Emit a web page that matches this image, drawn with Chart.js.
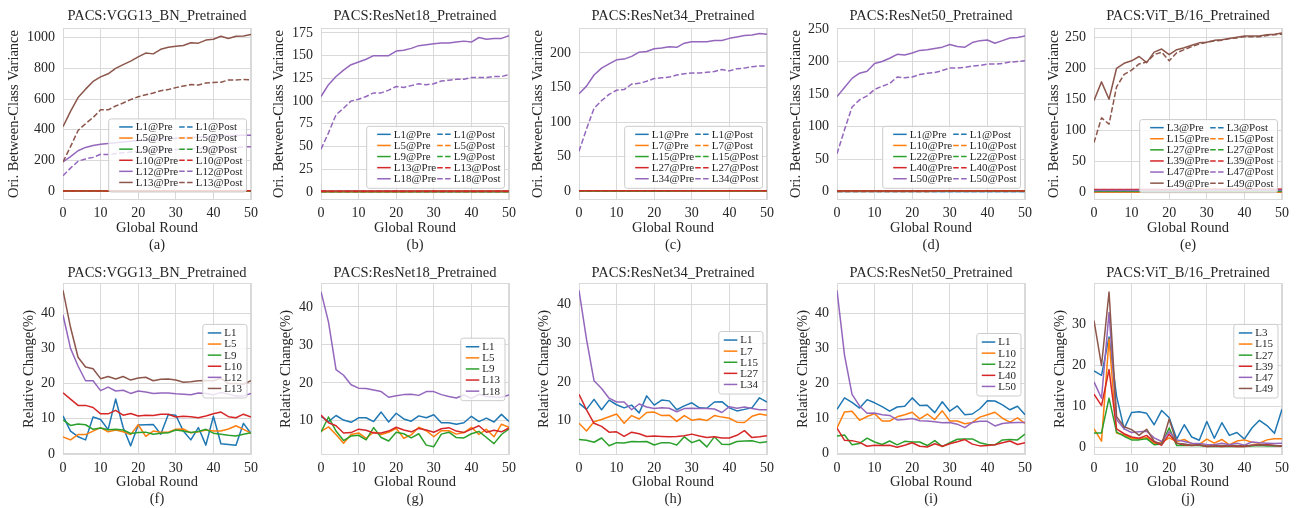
<!DOCTYPE html>
<html>
<head>
<meta charset="utf-8">
<title>PACS: between-class variance and relative change</title>
<script src="https://cdn.jsdelivr.net/npm/chart.js@4.4.0/dist/chart.umd.min.js"></script>
<style>
  html, body { margin: 0; padding: 0; background: #fff; }
  #fig { position: relative; width: 1304px; height: 508px; overflow: hidden; background: #fff; }
  #fig canvas { position: absolute; }
  #fontprobe { position: absolute; left: -9999px; top: 0; font-family: 'Liberation Serif'; font-size: 14px; }
</style>
</head>
<body>
<div id="fig"></div>
<span id="fontprobe">L1@Pre 0123456789</span>
<script>
// Global rounds on the x axis
const ROUNDS = [0,2,4,6,8,10,12,14,16,18,20,22,24,26,28,30,32,34,36,38,40,42,44,46,48,50];
const X_TICKS = [0, 10, 20, 30, 40, 50];

// ---- (a) VGG13_BN, between-class variance ----
const A_LAYERS = ['L1', 'L5', 'L9', 'L10', 'L12', 'L13'];
const A_Y_TICKS = [0, 200, 400, 600, 800, 1000];
const a_L1_pre  = [0.3,0.3,0.3,0.3,0.3,0.3,0.3,0.3,0.3,0.3,0.3,0.3,0.3,0.4,0.4,0.4,0.4,0.4,0.4,0.4,0.4,0.4,0.4,0.4,0.4,0.4];
const a_L5_pre  = [0.6,0.6,0.6,0.6,0.6,0.6,0.6,0.6,0.6,0.6,0.6,0.6,0.6,0.7,0.7,0.7,0.7,0.7,0.7,0.7,0.7,0.7,0.7,0.7,0.7,0.7];
const a_L9_pre  = [1.1,1.1,1.1,1.1,1.1,1.1,1.1,1.1,1.1,1.1,1.1,1.1,1.1,1.3,1.3,1.3,1.3,1.3,1.3,1.3,1.3,1.3,1.3,1.3,1.3,1.3];
const a_L10_pre = [1.8,1.8,1.8,1.8,1.8,1.8,1.8,1.8,1.8,1.8,1.8,1.8,1.8,2.1,2.1,2.1,2.1,2.1,2.1,2.1,2.1,2.1,2.1,2.1,2.1,2.1];
const a_L12_pre = [190,225,263,285,298,305,310,315,320,325,330,333,337,340,342,345,348,350,352,355,357,360,362,363,365,365];
const a_L13_pre = [420,520,610,665,715,745,765,800,825,848,875,900,895,925,938,945,950,968,965,985,990,1010,995,1010,1012,1022];
const a_L1_post  = [0.2,0.2,0.2,0.2,0.2,0.2,0.2,0.2,0.2,0.2,0.2,0.2,0.2,0.3,0.3,0.3,0.3,0.3,0.3,0.3,0.3,0.3,0.3,0.3,0.3,0.3];
const a_L5_post  = [0.5,0.5,0.5,0.5,0.5,0.5,0.5,0.5,0.5,0.5,0.5,0.5,0.5,0.6,0.6,0.6,0.6,0.6,0.6,0.6,0.6,0.6,0.6,0.6,0.6,0.6];
const a_L9_post  = [0.9,0.9,0.9,0.9,0.9,0.9,0.9,0.9,0.9,0.9,0.9,0.9,0.9,1.1,1.1,1.1,1.1,1.1,1.1,1.1,1.1,1.1,1.1,1.1,1.1,1.1];
const a_L10_post = [1.5,1.5,1.5,1.5,1.5,1.5,1.5,1.5,1.5,1.5,1.5,1.5,1.5,1.8,1.8,1.8,1.8,1.8,1.8,1.8,1.8,1.8,1.8,1.8,1.8,1.8];
const a_L12_post = [100,150,195,210,220,240,238,245,250,255,258,262,265,268,270,272,274,276,278,280,282,284,285,286,288,290];
const a_L13_post = [190,290,395,440,480,530,530,555,575,597,615,628,640,655,662,675,685,695,692,705,708,710,725,725,728,725];

// ---- (b) ResNet18 ----
const B_LAYERS = ['L1', 'L5', 'L9', 'L13', 'L18'];
const B_Y_TICKS = [0, 25, 50, 75, 100, 125, 150, 175];
const b_L1_pre  = [0.1,0.1,0.1,0.1,0.1,0.1,0.1,0.1,0.1,0.1,0.1,0.1,0.1,0.1,0.1,0.1,0.1,0.1,0.1,0.1,0.1,0.1,0.1,0.1,0.1,0.1];
const b_L5_pre  = [0.2,0.2,0.2,0.2,0.2,0.2,0.2,0.2,0.2,0.2,0.2,0.2,0.2,0.3,0.3,0.3,0.3,0.3,0.3,0.3,0.3,0.3,0.3,0.3,0.3,0.3];
const b_L9_pre  = [0.4,0.4,0.4,0.4,0.4,0.4,0.4,0.4,0.4,0.4,0.4,0.4,0.4,0.5,0.5,0.5,0.5,0.5,0.5,0.5,0.5,0.5,0.5,0.5,0.5,0.5];
const b_L13_pre = [0.8,0.8,0.8,0.8,0.8,0.8,0.8,0.8,0.8,0.8,0.8,0.8,0.8,0.9,0.9,0.9,0.9,0.9,0.9,0.9,0.9,0.9,0.9,0.9,0.9,0.9];
const b_L18_pre = [105,118,127,134,140,143,146,150,150,150,155,156,158,161,162,163,164,164,165,166,165,170,168,169,169,172];
const b_L1_post  = [0.1,0.1,0.1,0.1,0.1,0.1,0.1,0.1,0.1,0.1,0.1,0.1,0.1,0.1,0.1,0.1,0.1,0.1,0.1,0.1,0.1,0.1,0.1,0.1,0.1,0.1];
const b_L5_post  = [0.2,0.2,0.2,0.2,0.2,0.2,0.2,0.2,0.2,0.2,0.2,0.2,0.2,0.2,0.2,0.2,0.2,0.2,0.2,0.2,0.2,0.2,0.2,0.2,0.2,0.2];
const b_L9_post  = [0.3,0.3,0.3,0.3,0.3,0.3,0.3,0.3,0.3,0.3,0.3,0.3,0.3,0.4,0.4,0.4,0.4,0.4,0.4,0.4,0.4,0.4,0.4,0.4,0.4,0.4];
const b_L13_post = [0.6,0.6,0.6,0.6,0.6,0.6,0.6,0.6,0.6,0.6,0.6,0.6,0.6,0.7,0.7,0.7,0.7,0.7,0.7,0.7,0.7,0.7,0.7,0.7,0.7,0.7];
const b_L18_post = [47,65,85,92,100,102,105,109,109,112,116,115,117,119,118,119,122,123,124,124,126,126,126,127,127,129];

// ---- (c) ResNet34 ----
const C_LAYERS = ['L1', 'L7', 'L15', 'L27', 'L34'];
const C_Y_TICKS = [0, 50, 100, 150, 200];
const c_L1_pre  = [0.1,0.1,0.1,0.1,0.1,0.1,0.1,0.1,0.1,0.1,0.1,0.1,0.1,0.1,0.1,0.1,0.1,0.1,0.1,0.1,0.1,0.1,0.1,0.1,0.1,0.1];
const c_L7_pre  = [0.2,0.2,0.2,0.2,0.2,0.2,0.2,0.2,0.2,0.2,0.2,0.2,0.2,0.3,0.3,0.3,0.3,0.3,0.3,0.3,0.3,0.3,0.3,0.3,0.3,0.3];
const c_L15_pre = [0.4,0.4,0.4,0.4,0.4,0.4,0.4,0.4,0.4,0.4,0.4,0.4,0.4,0.5,0.5,0.5,0.5,0.5,0.5,0.5,0.5,0.5,0.5,0.5,0.5,0.5];
const c_L27_pre = [0.9,0.9,0.9,0.9,0.9,0.9,0.9,0.9,0.9,0.9,0.9,0.9,0.9,1.0,1.0,1.0,1.0,1.0,1.0,1.0,1.0,1.0,1.0,1.0,1.0,1.0];
const c_L34_pre = [141,152,168,178,184,190,191,195,201,202,206,207,209,208,214,216,216,216,218,218,221,223,225,226,228,227];
const c_L1_post  = [0.1,0.1,0.1,0.1,0.1,0.1,0.1,0.1,0.1,0.1,0.1,0.1,0.1,0.1,0.1,0.1,0.1,0.1,0.1,0.1,0.1,0.1,0.1,0.1,0.1,0.1];
const c_L7_post  = [0.2,0.2,0.2,0.2,0.2,0.2,0.2,0.2,0.2,0.2,0.2,0.2,0.2,0.2,0.2,0.2,0.2,0.2,0.2,0.2,0.2,0.2,0.2,0.2,0.2,0.2];
const c_L15_post = [0.3,0.3,0.3,0.3,0.3,0.3,0.3,0.3,0.3,0.3,0.3,0.3,0.3,0.4,0.4,0.4,0.4,0.4,0.4,0.4,0.4,0.4,0.4,0.4,0.4,0.4];
const c_L27_post = [0.7,0.7,0.7,0.7,0.7,0.7,0.7,0.7,0.7,0.7,0.7,0.7,0.7,0.8,0.8,0.8,0.8,0.8,0.8,0.8,0.8,0.8,0.8,0.8,0.8,0.8];
const c_L34_post = [58,90,120,131,140,146,147,155,156,159,163,164,165,168,170,171,171,172,173,176,174,177,178,180,181,181];

// ---- (d) ResNet50 ----
const D_LAYERS = ['L1', 'L10', 'L22', 'L40', 'L50'];
const D_Y_TICKS = [0, 50, 100, 150, 200, 250];
const d_L1_pre  = [0.1,0.1,0.1,0.1,0.1,0.1,0.1,0.1,0.1,0.1,0.1,0.1,0.1,0.1,0.1,0.1,0.1,0.1,0.1,0.1,0.1,0.1,0.1,0.1,0.1,0.1];
const d_L10_pre = [0.3,0.3,0.3,0.3,0.3,0.3,0.3,0.3,0.3,0.3,0.3,0.3,0.3,0.3,0.3,0.3,0.3,0.3,0.3,0.3,0.3,0.3,0.3,0.3,0.3,0.3];
const d_L22_pre = [0.5,0.5,0.5,0.5,0.5,0.5,0.5,0.5,0.5,0.5,0.5,0.5,0.5,0.6,0.6,0.6,0.6,0.6,0.6,0.6,0.6,0.6,0.6,0.6,0.6,0.6];
const d_L40_pre = [1.0,1.0,1.0,1.0,1.0,1.0,1.0,1.0,1.0,1.0,1.0,1.0,1.0,1.2,1.2,1.2,1.2,1.2,1.2,1.2,1.2,1.2,1.2,1.2,1.2,1.2];
const d_L50_pre = [146,160,174,182,185,197,200,205,211,210,213,217,218,220,222,226,223,222,229,232,233,228,232,236,237,239];
const d_L1_post  = [0.1,0.1,0.1,0.1,0.1,0.1,0.1,0.1,0.1,0.1,0.1,0.1,0.1,0.1,0.1,0.1,0.1,0.1,0.1,0.1,0.1,0.1,0.1,0.1,0.1,0.1];
const d_L10_post = [0.2,0.2,0.2,0.2,0.2,0.2,0.2,0.2,0.2,0.2,0.2,0.2,0.2,0.3,0.3,0.3,0.3,0.3,0.3,0.3,0.3,0.3,0.3,0.3,0.3,0.3];
const d_L22_post = [0.4,0.4,0.4,0.4,0.4,0.4,0.4,0.4,0.4,0.4,0.4,0.4,0.4,0.5,0.5,0.5,0.5,0.5,0.5,0.5,0.5,0.5,0.5,0.5,0.5,0.5];
const d_L40_post = [0.8,0.8,0.8,0.8,0.8,0.8,0.8,0.8,0.8,0.8,0.8,0.8,0.8,1.0,1.0,1.0,1.0,1.0,1.0,1.0,1.0,1.0,1.0,1.0,1.0,1.0];
const d_L50_post = [58,95,130,141,147,157,162,166,176,175,176,180,182,183,186,190,190,191,193,194,196,196,197,199,200,201];

// ---- (e) ViT_B/16 ----
const E_LAYERS = ['L3', 'L15', 'L27', 'L39', 'L47', 'L49'];
const E_Y_TICKS = [0, 50, 100, 150, 200, 250];
const e_L3_pre  = [0.9,0.9,0.9,0.9,0.9,0.9,0.9,0.9,0.9,0.9,0.9,0.9,0.9,1.0,1.0,1.0,1.0,1.0,1.0,1.0,1.0,1.0,1.0,1.0,1.0,1.0];
const e_L15_pre = [0.5,0.5,0.5,0.5,0.5,0.5,0.5,0.5,0.5,0.5,0.5,0.5,0.5,0.6,0.6,0.6,0.6,0.6,0.6,0.6,0.6,0.6,0.6,0.6,0.6,0.6];
const e_L27_pre = [1.7,1.7,1.7,1.7,1.7,1.7,1.7,1.7,1.7,1.7,1.7,1.7,1.7,1.9,1.9,1.9,1.9,1.9,1.9,1.9,1.9,1.9,1.9,1.9,1.9,1.9];
const e_L39_pre = [4.6,4.6,4.6,4.6,4.6,4.6,4.6,4.6,4.6,4.6,4.6,4.6,4.6,4.9,4.9,4.9,4.9,4.9,4.9,4.9,4.9,4.9,4.9,4.9,4.9,4.9];
const e_L47_pre = [3.4,3.4,3.4,3.4,3.4,3.4,3.4,3.4,3.4,3.4,3.4,3.4,3.4,3.7,3.7,3.7,3.7,3.7,3.7,3.7,3.7,3.7,3.7,3.7,3.7,3.7];
const e_L49_pre = [148,178,150,200,208,212,219,209,226,231,222,230,233,237,241,242,245,246,248,250,252,252,252,254,255,257];
const e_L3_post  = [0.8,0.8,0.8,0.8,0.8,0.8,0.8,0.8,0.8,0.8,0.8,0.8,0.8,0.9,0.9,0.9,0.9,0.9,0.9,0.9,0.9,0.9,0.9,0.9,0.9,0.9];
const e_L15_post = [0.4,0.4,0.4,0.4,0.4,0.4,0.4,0.4,0.4,0.4,0.4,0.4,0.4,0.5,0.5,0.5,0.5,0.5,0.5,0.5,0.5,0.5,0.5,0.5,0.5,0.5];
const e_L27_post = [1.5,1.5,1.5,1.5,1.5,1.5,1.5,1.5,1.5,1.5,1.5,1.5,1.5,1.7,1.7,1.7,1.7,1.7,1.7,1.7,1.7,1.7,1.7,1.7,1.7,1.7];
const e_L39_post = [4.1,4.1,4.1,4.1,4.1,4.1,4.1,4.1,4.1,4.1,4.1,4.1,4.1,4.4,4.4,4.4,4.4,4.4,4.4,4.4,4.4,4.4,4.4,4.4,4.4,4.4];
const e_L47_post = [3.0,3.0,3.0,3.0,3.0,3.0,3.0,3.0,3.0,3.0,3.0,3.0,3.0,3.3,3.3,3.3,3.3,3.3,3.3,3.3,3.3,3.3,3.3,3.3,3.3,3.3];
const e_L49_post = [80,120,110,170,190,197,207,210,222,226,212,225,230,235,239,242,244,245,248,249,251,251,251,253,254,255];

// ---- bottom row: relative change (%) ----
const F_Y_TICKS = [0, 10, 20, 30, 40];
const f_L1  = [10.8,6.5,4.9,4.0,10.5,9.8,6.9,15.6,7.5,2.3,8.2,8.3,8.4,5.6,11.2,11.0,6.5,4.0,7.5,2.5,10.7,2.9,2.7,2.5,8.7,5.8];
const f_L5  = [4.8,4.0,5.5,5.5,6.5,7.5,6.3,6.8,6.3,5.5,8.3,5.0,6.5,6.2,6.2,7.0,7.1,6.0,6.3,6.8,6.5,6.5,7.1,8.0,7.0,5.9];
const f_L9  = [9.7,8.1,8.5,8.3,7.0,7.4,6.9,7.0,6.8,5.8,6.1,6.2,5.6,5.9,6.0,6.8,6.5,6.1,6.4,7.0,5.9,5.6,5.3,5.1,5.6,6.0];
const f_L10 = [17.4,15.6,13.8,13.8,13.2,11.4,11.4,12.4,11.0,11.5,10.8,11.0,10.9,11.3,11.3,10.5,10.7,10.6,10.3,10.8,11.4,11.9,10.6,10.3,11.3,10.5];
const f_L12 = [39.5,30.0,25.0,20.8,20.8,18.0,19.0,17.9,18.1,17.2,17.9,17.6,17.2,17.3,17.3,17.1,17.0,16.8,17.3,17.2,16.8,17.5,17.0,16.5,16.5,17.2];
const f_L13 = [46.5,36.0,27.5,24.7,24.2,21.4,22.0,21.3,22.0,21.0,21.6,21.8,20.8,21.2,21.3,21.0,20.4,20.5,20.8,20.9,20.8,21.5,20.0,20.0,19.8,20.8];

const G_Y_TICKS = [10, 20, 30, 40];
const g_L1  = [11.2,9.8,11.4,10.2,9.6,10.8,10.8,9.8,12.3,9.7,12.0,10.5,9.9,11.3,10.8,11.6,9.5,9.5,9.1,9.5,11.2,9.8,10.7,9.7,11.7,9.8];
const g_L5  = [7.2,8.4,6.4,4.1,6.4,6.8,5.4,7.0,6.4,7.0,8.0,5.4,6.3,8.3,7.4,5.8,7.4,7.4,6.5,6.9,8.3,6.4,7.8,5.8,9.1,8.3];
const g_L9  = [7.0,11.0,7.3,4.8,6.0,6.2,5.0,8.2,5.6,4.7,7.0,6.6,5.5,6.6,3.6,3.2,6.5,7.0,5.6,5.5,6.6,7.2,5.6,4.0,6.4,7.9];
const g_L13 = [11.5,9.5,8.7,6.8,6.9,7.8,7.5,6.8,6.8,7.3,8.3,7.6,7.1,8.0,7.6,7.0,7.9,8.2,7.3,6.9,7.8,8.7,7.0,7.5,7.1,8.1];
const g_L18 = [44.0,36.0,23.5,22.0,19.5,18.6,18.5,18.1,17.7,16.2,16.6,16.9,17.0,16.7,17.7,17.7,16.9,16.4,16.0,16.8,15.9,17.0,16.4,16.3,16.2,16.8];

const H_Y_TICKS = [10, 20, 30, 40];
const h_L1  = [14.5,12.9,15.5,12.8,15.3,14.1,13.3,14.0,12.0,16.4,14.0,15.3,15.1,12.8,13.8,14.6,13.3,13.2,14.8,14.9,13.3,12.5,12.9,13.3,15.9,14.8];
const h_L7  = [9.3,7.3,9.7,10.3,11.0,11.7,9.3,11.3,10.4,12.1,12.2,11.3,11.4,9.8,11.3,10.1,10.4,10.0,11.3,10.9,10.6,9.6,9.5,11.1,11.7,11.4];
const h_L15 = [5.1,4.9,4.4,5.5,3.5,4.3,4.2,4.6,4.5,4.6,3.7,4.3,4.3,3.7,5.8,4.3,5.0,3.2,5.8,3.9,3.8,4.6,4.7,4.8,4.3,4.5];
const h_L27 = [16.8,12.8,9.3,8.5,7.0,7.1,5.9,7.0,6.6,5.9,6.0,5.9,5.8,5.9,6.1,6.5,6.0,5.6,5.8,5.5,5.5,6.2,7.4,5.6,5.8,6.1];
const h_L34 = [43.7,31.0,20.3,18.3,15.8,14.8,14.8,12.8,14.3,13.5,13.1,13.3,13.2,12.3,13.1,13.2,13.1,13.1,13.0,12.1,13.6,13.2,13.5,13.1,12.8,12.8];

const I_Y_TICKS = [0, 10, 20, 30, 40];
const i_L1  = [12.5,15.8,14.5,12.9,15.3,14.4,13.3,12.0,13.2,13.4,15.8,13.6,13.7,11.6,14.7,12.0,13.5,11.0,11.2,12.7,15.0,14.9,13.8,12.4,13.4,11.0];
const i_L10 = [7.2,11.8,12.0,9.4,10.5,11.3,9.2,9.2,10.4,11.0,11.7,9.8,11.2,9.6,12.1,9.2,9.2,8.4,8.8,10.3,11.0,11.7,10.0,8.9,10.1,8.5];
const i_L22 = [4.9,5.2,2.4,2.8,4.3,3.2,2.5,3.5,2.4,3.4,3.2,3.2,2.2,3.6,1.9,3.0,4.0,4.1,4.1,3.0,2.5,2.4,3.8,3.9,3.8,5.5];
const i_L40 = [7.2,3.7,3.6,3.1,2.0,2.3,2.2,2.3,1.7,2.3,3.0,2.0,1.8,2.7,2.0,2.7,3.3,3.9,2.6,2.1,2.2,2.4,3.0,3.5,2.5,3.0];
const i_L50 = [46.5,28.0,16.8,13.5,11.4,11.5,11.0,10.8,9.5,9.6,9.9,9.3,9.2,9.0,8.7,8.8,8.3,7.3,8.8,9.1,9.1,7.8,8.5,8.7,8.8,8.8];

const J_Y_TICKS = [0, 10, 20, 30];
const j_L3  = [18.7,17.6,27.0,12.5,4.5,8.5,8.7,8.3,5.5,9.0,7.2,2.0,5.5,2.5,1.7,6.3,2.2,6.0,2.9,3.6,2.0,4.7,6.6,5.3,3.4,9.3];
const j_L15 = [4.5,1.5,26.5,3.5,3.0,2.2,2.0,2.4,0.9,1.2,2.3,1.4,1.9,0.9,0.7,2.0,1.0,1.9,0.6,1.5,1.8,1.2,1.0,1.8,2.1,2.1];
const j_L27 = [3.5,3.5,12.0,3.7,2.7,1.8,1.8,2.1,0.6,0.8,4.7,0.4,0.5,0.4,0.4,0.2,0.2,0.2,0.2,0.2,0.2,0.3,0.4,0.3,0.3,0.3];
const j_L39 = [13.0,10.2,19.0,4.5,3.3,2.5,2.2,2.9,1.3,0.5,3.2,1.0,0.6,0.4,0.6,0.2,0.3,0.2,0.3,0.2,0.2,0.5,0.6,0.7,0.4,0.3];
const j_L47 = [16.0,12.0,33.0,6.8,4.5,3.6,3.8,3.9,2.3,1.4,3.8,1.8,1.4,1.0,0.9,0.7,0.6,1.0,0.6,1.0,0.5,1.3,1.1,1.0,0.9,1.0];
const j_L49 = [31.0,20.0,38.0,7.5,5.0,4.3,2.9,4.4,1.5,0.7,6.9,1.0,0.8,0.5,0.6,0.3,0.3,0.4,0.3,0.4,0.3,0.5,0.6,0.5,0.4,0.3];

// Estilo
const FONT = "'Liberation Serif', 'Times New Roman', serif";
const INK = '#262626';
const GRID = '#d9d9d9';
const COLORS = ['#1f77b4', '#ff7f0e', '#2ca02c', '#d62728', '#9467bd', '#8c564b'];
const DASH = [5.5, 2.4];
const PLOT_W = 192;
const RIGHT_PAD = 8;

Chart.defaults.font.family = FONT;
Chart.defaults.color = INK;

const TOP_LEGEND = { cols: 2, padL: 10.5, handle: 13.5, gap: 3, colGap: 1, padR: 4, rowH: 11.1, padT: 2.5, padB: 4 };
const BOTTOM_LEGEND = { cols: 1, padL: 5, handle: 13.5, gap: 3, colGap: 0, padR: 5, rowH: 11.1, padT: 3, padB: 4 };

const ROWS = [
  { top: 0, height: 254, xh: 54, titlePad: { top: 8.2, bottom: 2.8 }, ylabel: 'Ori. Between-Class Variance', legend: TOP_LEGEND },
  { top: 254, height: 254, xh: 53, titlePad: { top: 10.8, bottom: 1.2 }, ylabel: 'Relative Change(%)', legend: BOTTOM_LEGEND },
];

const panels = [
  { row: 0, tag: '(a)', title: 'PACS:VGG13_BN_Pretrained', left: 63, yw: 57, yMin: -58, yMax: 1064, yTicks: A_Y_TICKS, layers: A_LAYERS,
    pre: [a_L1_pre, a_L5_pre, a_L9_pre, a_L10_pre, a_L12_pre, a_L13_pre],
    post: [a_L1_post, a_L5_post, a_L9_post, a_L10_post, a_L12_post, a_L13_post], legend: { right: 4.5, bottom: 8 } },
  { row: 0, tag: '(b)', title: 'PACS:ResNet18_Pretrained', left: 321, yw: 50, yMin: -9, yMax: 180.5, yTicks: B_Y_TICKS, layers: B_LAYERS,
    pre: [b_L1_pre, b_L5_pre, b_L9_pre, b_L13_pre, b_L18_pre],
    post: [b_L1_post, b_L5_post, b_L9_post, b_L13_post, b_L18_post], legend: { right: 4.5, bottom: 11.7 } },
  { row: 0, tag: '(c)', title: 'PACS:ResNet34_Pretrained', left: 579, yw: 49, yMin: -12.5, yMax: 236, yTicks: C_Y_TICKS, layers: C_LAYERS,
    pre: [c_L1_pre, c_L7_pre, c_L15_pre, c_L27_pre, c_L34_pre],
    post: [c_L1_post, c_L7_post, c_L15_post, c_L27_post, c_L34_post], legend: { right: 4.5, bottom: 11.7 } },
  { row: 0, tag: '(d)', title: 'PACS:ResNet50_Pretrained', left: 837, yw: 49, yMin: -13, yMax: 251.5, yTicks: D_Y_TICKS, layers: D_LAYERS,
    pre: [d_L1_pre, d_L10_pre, d_L22_pre, d_L40_pre, d_L50_pre],
    post: [d_L1_post, d_L10_post, d_L22_post, d_L40_post, d_L50_post], legend: { right: 4.5, bottom: 11.7 } },
  { row: 0, tag: '(e)', title: 'PACS:ViT_B/16_Pretrained', left: 1094, yw: 48, yMin: -12.5, yMax: 265, yTicks: E_Y_TICKS, layers: E_LAYERS,
    pre: [e_L3_pre, e_L15_pre, e_L27_pre, e_L39_pre, e_L47_pre, e_L49_pre],
    post: [e_L3_post, e_L15_post, e_L27_post, e_L39_post, e_L47_post, e_L49_post], legend: { right: 4.5, bottom: 7.3 } },

  { row: 1, tag: '(f)', title: 'PACS:VGG13_BN_Pretrained', left: 63, yw: 42, yMin: -0.3, yMax: 48.6, yTicks: F_Y_TICKS, layers: A_LAYERS,
    series: [f_L1, f_L5, f_L9, f_L10, f_L12, f_L13], legend: { right: 4, bottom: 57 } },
  { row: 1, tag: '(g)', title: 'PACS:ResNet18_Pretrained', left: 321, yw: 43, yMin: 1.0, yMax: 46.3, yTicks: G_Y_TICKS, layers: B_LAYERS,
    series: [g_L1, g_L5, g_L9, g_L13, g_L18], legend: { right: 4, bottom: 54.3 } },
  { row: 1, tag: '(h)', title: 'PACS:ResNet34_Pretrained', left: 579, yw: 43, yMin: 1.1, yMax: 45.6, yTicks: H_Y_TICKS, layers: C_LAYERS,
    series: [h_L1, h_L7, h_L15, h_L27, h_L34], legend: { right: 4, bottom: 61 } },
  { row: 1, tag: '(i)', title: 'PACS:ResNet50_Pretrained', left: 837, yw: 42, yMin: -0.5, yMax: 48.6, yTicks: I_Y_TICKS, layers: D_LAYERS,
    series: [i_L1, i_L10, i_L22, i_L40, i_L50], legend: { right: 4, bottom: 59 } },
  { row: 1, tag: '(j)', title: 'PACS:ViT_B/16_Pretrained', left: 1094, yw: 42, yMin: -1.9, yMax: 40.2, yTicks: J_Y_TICKS, layers: E_LAYERS,
    series: [j_L3, j_L15, j_L27, j_L39, j_L47, j_L49], legend: { right: 4, bottom: 57 } },
];

// Moldura cinza em volta da área do gráfico
const frame = {
  id: 'frame',
  beforeDatasetsDraw(chart) {
    const { ctx, chartArea: a } = chart;
    ctx.save();
    ctx.strokeStyle = GRID;
    ctx.lineWidth = 1;
    ctx.strokeRect(Math.round(a.left) + 0.5, Math.round(a.top) + 0.5, Math.round(a.width) - 1, Math.round(a.height) - 1);
    ctx.restore();
  },
};

// Legenda em caixa dentro do gráfico (colunas preenchidas de cima para baixo)
const boxLegend = {
  id: 'boxLegend',
  afterDatasetsDraw(chart, args, opt) {
    const { ctx, chartArea } = chart;
    const sets = chart.data.datasets;
    const rows = Math.ceil(sets.length / opt.cols);
    ctx.save();
    ctx.font = '11px ' + FONT;
    const colW = [];
    for (let c = 0; c < opt.cols; c++) {
      let w = 0;
      for (let r = 0; r < rows; r++) {
        const d = sets[c * rows + r];
        if (d) w = Math.max(w, ctx.measureText(d.label).width);
      }
      colW.push(w);
    }
    let width = opt.padL + opt.padR + opt.colGap * (opt.cols - 1);
    colW.forEach(w => { width += opt.handle + opt.gap + w; });
    const height = rows * opt.rowH + opt.padT + opt.padB;
    const right = chartArea.right - opt.right;
    const bottom = chartArea.bottom - opt.bottom;
    const left = right - width;
    const top = bottom - height;

    ctx.beginPath();
    if (ctx.roundRect) ctx.roundRect(left, top, width, height, 2.5);
    else ctx.rect(left, top, width, height);
    ctx.fillStyle = 'rgba(255,255,255,0.8)';
    ctx.fill();
    ctx.strokeStyle = '#cccccc';
    ctx.lineWidth = 1;
    ctx.stroke();

    ctx.textBaseline = 'middle';
    ctx.textAlign = 'left';
    let x = left + opt.padL;
    for (let c = 0; c < opt.cols; c++) {
      for (let r = 0; r < rows; r++) {
        const d = sets[c * rows + r];
        if (!d) continue;
        const y = top + opt.padT + opt.rowH * (r + 0.5);
        ctx.beginPath();
        ctx.setLineDash(d.borderDash || []);
        ctx.strokeStyle = d.borderColor;
        ctx.lineWidth = 1.5;
        ctx.moveTo(x, y);
        ctx.lineTo(x + opt.handle, y);
        ctx.stroke();
        ctx.setLineDash([]);
        ctx.fillStyle = INK;
        ctx.fillText(d.label, x + opt.handle + opt.gap, y + 0.5);
      }
      x += opt.handle + opt.gap + colW[c] + opt.colGap;
    }
    ctx.restore();
  },
};

function line(label, values, color, dash) {
  return {
    label,
    data: values.map((v, k) => ({ x: ROUNDS[k], y: v })),
    borderColor: color,
    backgroundColor: color,
    borderWidth: 1.5,
    borderDash: dash,
    borderJoinStyle: 'round',
    pointRadius: 0,
    fill: false,
    tension: 0,
  };
}

function makePanel(p) {
  const row = ROWS[p.row];
  const w = p.yw + PLOT_W + RIGHT_PAD;
  const canvas = document.createElement('canvas');
  canvas.width = w;
  canvas.height = row.height;
  canvas.style.left = (p.left - p.yw) + 'px';
  canvas.style.top = row.top + 'px';
  canvas.style.width = w + 'px';
  canvas.style.height = row.height + 'px';
  document.getElementById('fig').appendChild(canvas);

  let datasets;
  if (p.row === 0) {
    const pre = p.layers.map((name, i) => line(name + '@Pre', p.pre[i], COLORS[i], []));
    const post = p.layers.map((name, i) => line(name + '@Post', p.post[i], COLORS[i], DASH));
    datasets = pre.concat(post);
  } else {
    datasets = p.layers.map((name, i) => line(name, p.series[i], COLORS[i], []));
  }
  // later series are drawn on top
  datasets.forEach((d, i) => { d.order = -i; });

  return new Chart(canvas, {
    type: 'line',
    data: { datasets },
    options: {
      responsive: false,
      animation: false,
      devicePixelRatio: 1,
      events: [],
      layout: { padding: { left: 0, right: RIGHT_PAD, top: 0, bottom: 0 } },
      scales: {
        x: {
          type: 'linear',
          min: 0,
          max: 50,
          afterBuildTicks: s => { s.ticks = X_TICKS.map(v => ({ value: v })); },
          afterFit: s => { s.height = row.xh; },
          grid: { color: GRID, lineWidth: 1, drawTicks: false },
          border: { display: false },
          ticks: { font: { size: 14 }, padding: 5, maxRotation: 0, autoSkip: false, color: INK, callback: v => String(v) },
          title: { display: true, text: ['Global Round', p.tag], font: { size: 14.5, lineHeight: 1.17 }, padding: 0, color: INK },
        },
        y: {
          type: 'linear',
          min: p.yMin,
          max: p.yMax,
          afterBuildTicks: s => { s.ticks = p.yTicks.map(v => ({ value: v })); },
          afterFit: s => { s.width = p.yw; },
          grid: { color: GRID, lineWidth: 1, drawTicks: false },
          border: { display: false },
          ticks: { font: { size: 14 }, padding: 8, autoSkip: false, color: INK, callback: v => String(v) },
          title: { display: true, text: row.ylabel, font: { size: 14.5, lineHeight: 1.17 }, padding: 0, color: INK },
        },
      },
      plugins: {
        legend: { display: false },
        tooltip: { enabled: false },
        title: {
          display: true,
          text: p.title,
          fullSize: false,
          color: INK,
          font: { size: 14.5, weight: 'normal', lineHeight: 1.17 },
          padding: row.titlePad,
        },
        boxLegend: Object.assign({}, row.legend, p.legend),
      },
    },
    plugins: [frame, boxLegend],
  });
}

// Espera a fonte serifada antes de desenhar
function drawAll() {
  panels.forEach(makePanel);
}

if (document.fonts && document.fonts.load) {
  Promise.all([
    document.fonts.load('14px "Liberation Serif"'),
    document.fonts.load('11px "Liberation Serif"'),
  ]).then(drawAll, drawAll);
} else {
  drawAll();
}
</script>
</body>
</html>
